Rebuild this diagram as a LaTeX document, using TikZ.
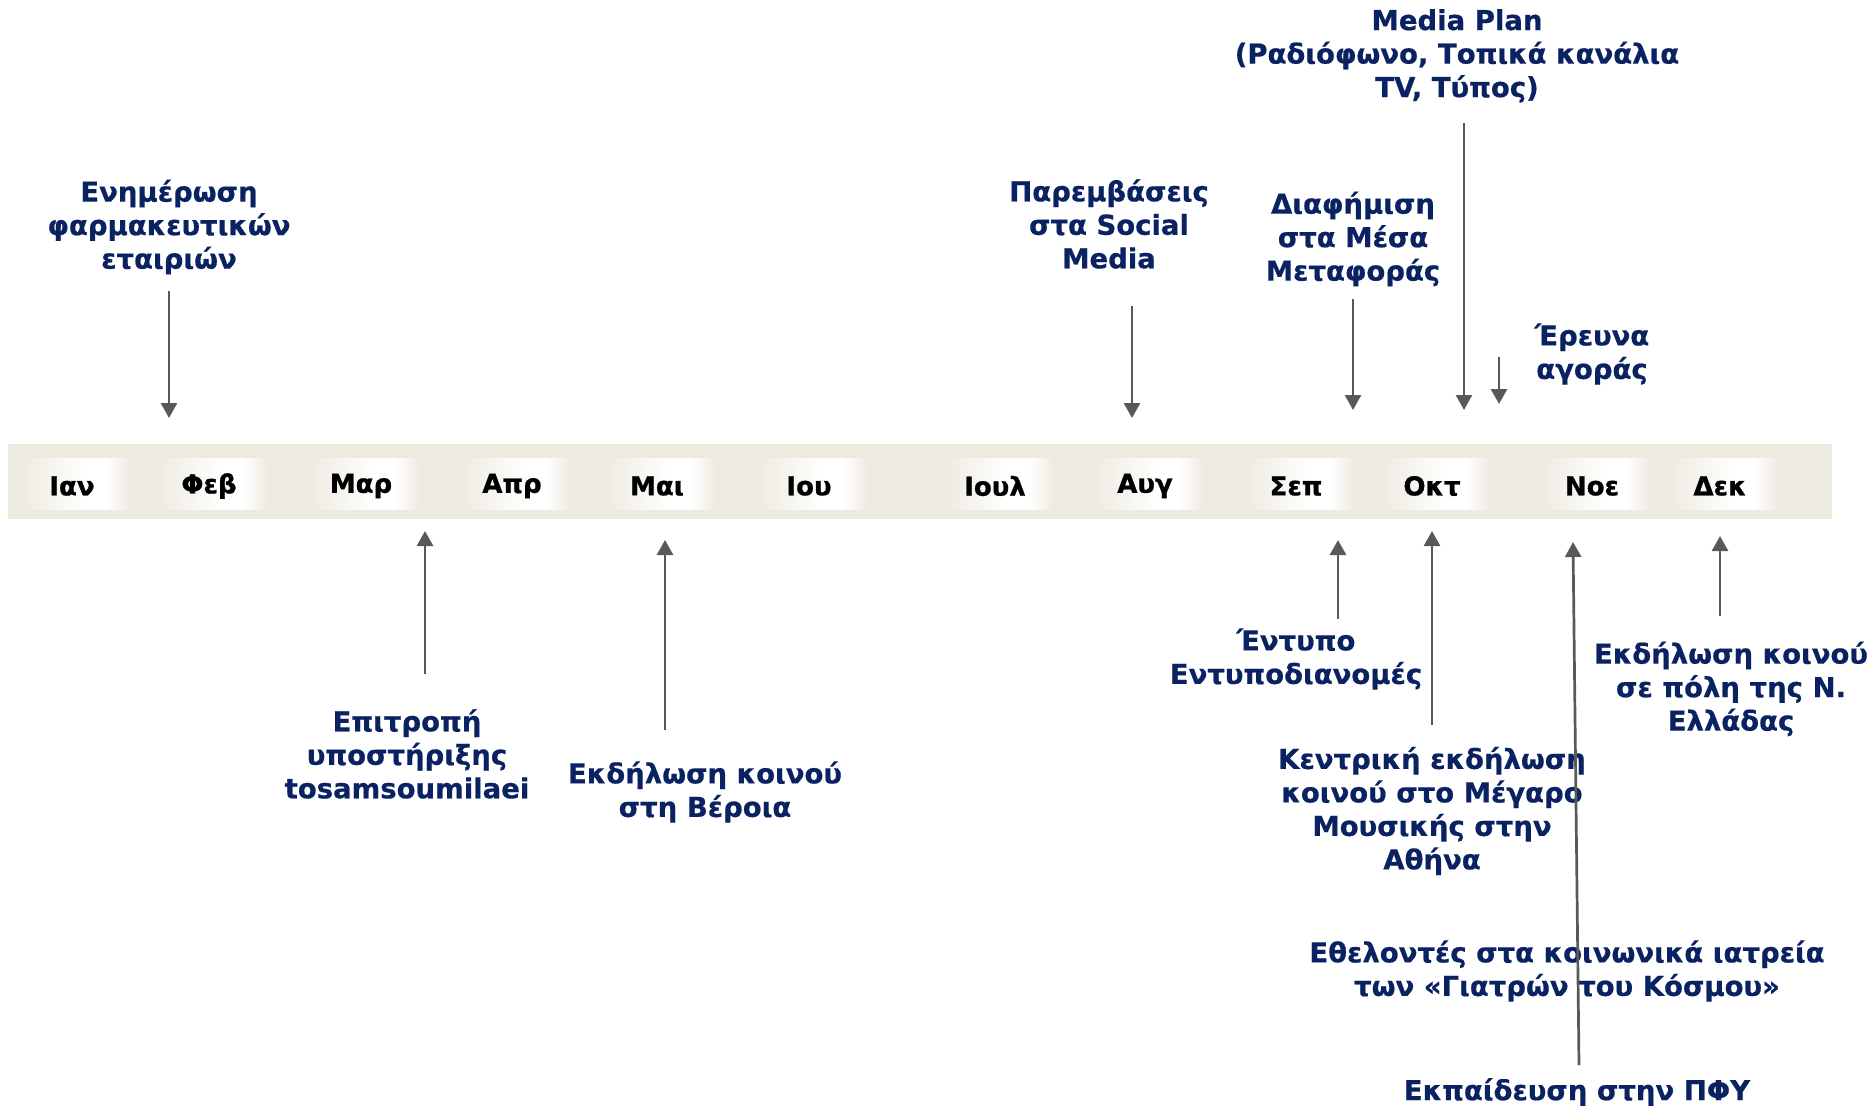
\documentclass[tikz,border=0pt]{standalone}
\usepackage{fontspec}
\setmainfont{DejaVu Sans}[BoldFeatures={FakeBold=0.6}]
\newfontfamily\monthfont{DejaVu Sans}[BoldFeatures={FakeBold=1.0}]
\usetikzlibrary{arrows.meta}
\definecolor{bandc}{RGB}{237,234,224}
\definecolor{navy}{RGB}{10,34,98}
\definecolor{arrc}{RGB}{89,89,89}
\pgfdeclarehorizontalshading{mboxsh}{100bp}{color(0bp)=(bandc); color(25bp)=(bandc); color(38bp)=(white!45!bandc); color(55bp)=(white); color(64bp)=(white); color(70bp)=(white!50!bandc); color(75bp)=(bandc); color(100bp)=(bandc)}
\begin{document}
\begin{tikzpicture}[x=1pt,y=-1pt,
  lbl/.style={font=\fontsize{27.5}{33.5}\selectfont\bfseries, text=navy, align=center, inner sep=0pt},
  mon/.style={font=\monthfont\fontsize{26}{30}\selectfont\bfseries, text=black, inner sep=0pt},
  mbox/.style={minimum width=110pt, minimum height=51pt, inner sep=0pt, shading=mboxsh},
  arrowc/.style={draw=arrc, line width=2.7pt, -{Triangle[width=16pt,length=15pt]}}]
\useasboundingbox (0,0) rectangle (1876,1108);
% band
\node[fill=bandc, minimum width=1824pt, minimum height=75pt, inner sep=0pt] (band) at (920,481.5) {};
% month boxes and labels
\foreach \x/\m/\n in {72/Ιαν/m1, 209/Φεβ/m2, 361/Μαρ/m3, 512/Απρ/m4, 657/Μαι/m5, 809/Ιου/m6, 995/Ιουλ/m7, 1145/Αυγ/m8, 1296/Σεπ/m9, 1432/Οκτ/m10, 1592/Νοε/m11, 1720/Δεκ/m12}{
  \node[mbox] (b\n) at (\x+3,484) {};
  \node[mon] (\n) at (\x,486) {\m};
}
% labels above
\node[lbl] (t1) at (169,227) {Ενημέρωση\\φαρμακευτικών\\εταιριών};
\node[lbl] (t2) at (1109,224) {Παρεμβάσεις\\στα Social\\Media};
\node[lbl] (t3) at (1353,239) {Διαφήμιση\\στα Μέσα\\Μεταφοράς};
\node[lbl] (t4) at (1457,56) {Media Plan\\(Ραδιόφωνο, Τοπικά κανάλια\\TV, Τύπος)};
\node[lbl] (t5) at (1592,354) {Έρευνα\\αγοράς};
% labels below
\node[lbl] (t6) at (407,754) {Επιτροπή\\υποστήριξης\\tosamsoumilaei};
\node[lbl] (t7) at (705,792) {Εκδήλωση κοινού\\στη Βέροια};
\node[lbl] (t8) at (1296,659) {Έντυπο\\Εντυποδιανομές};
\node[lbl] (t9) at (1432,811) {Κεντρική εκδήλωση\\κοινού στο Μέγαρο\\Μουσικής στην\\Αθήνα};
\node[lbl] (t10) at (1731,689) {Εκδήλωση κοινού\\σε πόλη της Ν.\\Ελλάδας};
\node[lbl] (t11) at (1567,971) {Εθελοντές στα κοινωνικά ιατρεία\\των «Γιατρών του Κόσμου»};
\node[lbl] (t12) at (1577,1092) {Εκπαίδευση στην ΠΦΥ};
% arrow coordinates
\coordinate (a1s) at (169,291);  \coordinate (a1e) at (169,418);
\coordinate (a2s) at (1132,306); \coordinate (a2e) at (1132,418);
\coordinate (a3s) at (1353,299); \coordinate (a3e) at (1353,410);
\coordinate (a4s) at (1464,123); \coordinate (a4e) at (1464,410);
\coordinate (a5s) at (1499,357); \coordinate (a5e) at (1499,404);
\coordinate (a6s) at (425,674);  \coordinate (a6e) at (425,531);
\coordinate (a7s) at (665,730);  \coordinate (a7e) at (665,540);
\coordinate (a8s) at (1338,619); \coordinate (a8e) at (1338,540);
\coordinate (a9s) at (1432,725); \coordinate (a9e) at (1432,531);
\coordinate (a10s) at (1720,616); \coordinate (a10e) at (1720,536);
\coordinate (a12s) at (1579,1065); \coordinate (a12e) at (1573,542);
\foreach \i in {1,2,3,4,5,6,7,8,9,10,12}{
  \draw[arrowc] (a\i s) -- (a\i e);
}
\end{tikzpicture}
\end{document}
